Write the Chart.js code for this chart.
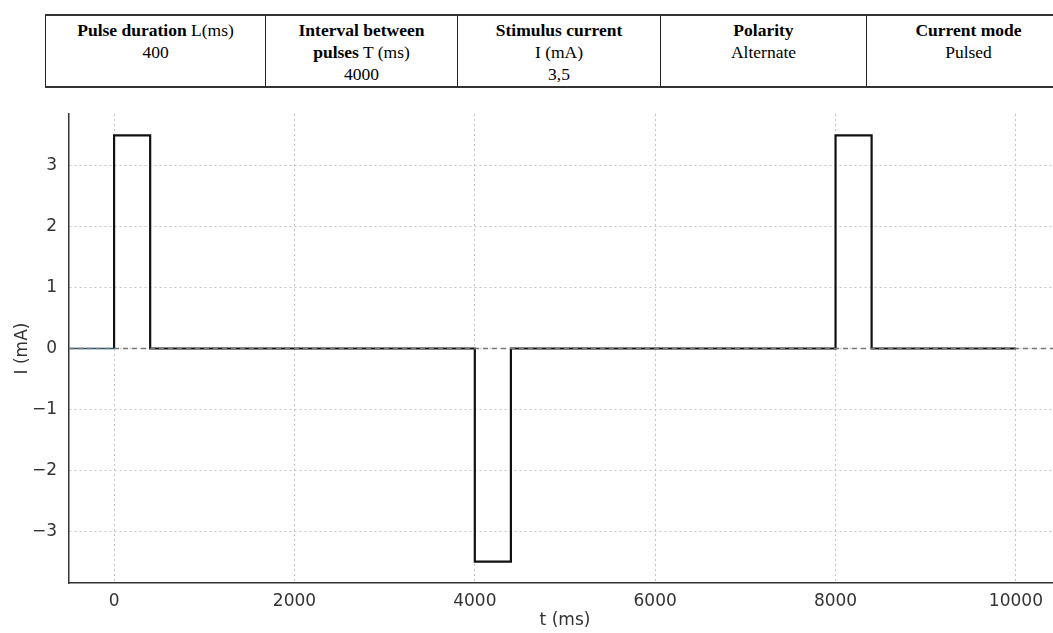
<!DOCTYPE html>
<html>
<head>
<meta charset="utf-8">
<script src="https://cdn.jsdelivr.net/npm/chart.js@4/dist/chart.umd.min.js"></script>
<style>
  html, body { margin: 0; padding: 0; background: #fff; overflow: hidden; width: 1053px; height: 633px; }
  #params {
    position: absolute; left: 45px; top: 14px; width: 1025px; height: 74px;
    border-collapse: collapse; table-layout: fixed;
    font-family: "Liberation Serif", "Times New Roman", serif; font-size: 17.5px; color: #000;
  }
  #params td {
    border-left: 1.5px solid #222; border-right: 1.5px solid #222;
    border-top: 2px solid #333; border-bottom: 2px solid #333;
    text-align: center; vertical-align: top; padding: 3px 2px 0 2px; line-height: 22px;
    white-space: nowrap;
  }
  #params b { font-weight: bold; }
  #wrap { position: absolute; left: 0; top: 100px; width: 1070px; height: 533px; }
</style>
</head>
<body>
<table id="params">
  <colgroup><col style="width:220px"><col style="width:192px"><col style="width:203px"><col style="width:206px"><col style="width:204px"></colgroup>
  <tr>
    <td><b>Pulse duration</b> L(ms)<br>400</td>
    <td><b>Interval between</b><br><b>pulses</b> T (ms)<br>4000</td>
    <td><b>Stimulus current</b><br>I (mA)<br>3,5</td>
    <td><b>Polarity</b><br>Alternate</td>
    <td><b>Current mode</b><br>Pulsed</td>
  </tr>
</table>
<div id="wrap"><canvas id="pulseChart" width="1070" height="533"></canvas></div>
<script>
// Pulse train corners (each value holds until the next time)
const pulseTimes = [0, 0, 400, 4000, 4400, 8000, 8400, 10000];
const pulseCurrent = [0, 3.5, 0, -3.5, 0, 3.5, 0, 0];
// Lead-in segment before t = 0
const leadTimes = [-500, 0];
const leadCurrent = [0, 0];
// Zero reference line
const zeroTimes = [-500, 10500];
const zeroCurrent = [0, 0];
// Tick labels
const xTicks = [0, 2000, 4000, 6000, 8000, 10000];
const yTicks = [-3, -2, -1, 0, 1, 2, 3];

function toPoints(xs, ys) {
  return xs.map((x, i) => ({ x: x, y: ys[i] }));
}

const tickFont = { family: 'DejaVu Sans', size: 17 };

new Chart(document.getElementById('pulseChart').getContext('2d'), {
  type: 'line',
  data: {
    datasets: [
      {
        data: toPoints(zeroTimes, zeroCurrent),
        borderColor: '#777',
        borderWidth: 1.3,
        borderDash: [5, 4],
        pointRadius: 0
      },
      {
        data: toPoints(leadTimes, leadCurrent),
        borderColor: '#1f5170',
        borderWidth: 1.6,
        pointRadius: 0
      },
      {
        data: toPoints(pulseTimes, pulseCurrent),
        borderColor: '#111',
        borderWidth: 2.2,
        stepped: 'before',
        pointRadius: 0
      }
    ]
  },
  options: {
    responsive: false,
    animation: false,
    layout: { padding: { left: 0, top: 14, right: 9, bottom: 0 } },
    plugins: { legend: { display: false }, tooltip: { enabled: false } },
    scales: {
      x: {
        type: 'linear',
        min: -500,
        max: 10500,
        afterBuildTicks: axis => { axis.ticks = xTicks.map(v => ({ value: v })); },
        afterFit: axis => { axis.height = 50; axis.paddingLeft = 0; axis.paddingRight = 0; },
        ticks: { color: '#333', font: tickFont, padding: 8, maxRotation: 0, callback: v => String(v) },
        grid: { color: '#c4c4c4', lineWidth: 1, drawTicks: false },
        border: { display: true, color: '#333', width: 1.5, dash: [2, 3] },
        title: { display: true, text: 't (ms)', color: '#333', font: tickFont, padding: { top: 0, bottom: 2 } }
      },
      y: {
        type: 'linear',
        min: -3.85,
        max: 3.85,
        afterBuildTicks: axis => { axis.ticks = yTicks.map(v => ({ value: v })); },
        afterFit: axis => { axis.width = 69; axis.paddingTop = 0; axis.paddingBottom = 0; },
        ticks: {
          color: '#333', font: tickFont, padding: 12,
          callback: v => (v < 0 ? '\u2212' + Math.abs(v) : String(v))
        },
        grid: { color: '#c4c4c4', lineWidth: 1, drawTicks: false },
        border: { display: true, color: '#333', width: 1.5, dash: [2, 3] },
        title: { display: true, text: 'I (mA)', color: '#333', font: tickFont, padding: { top: 12, bottom: 0 } }
      }
    }
  }
});
</script>
</body>
</html>
